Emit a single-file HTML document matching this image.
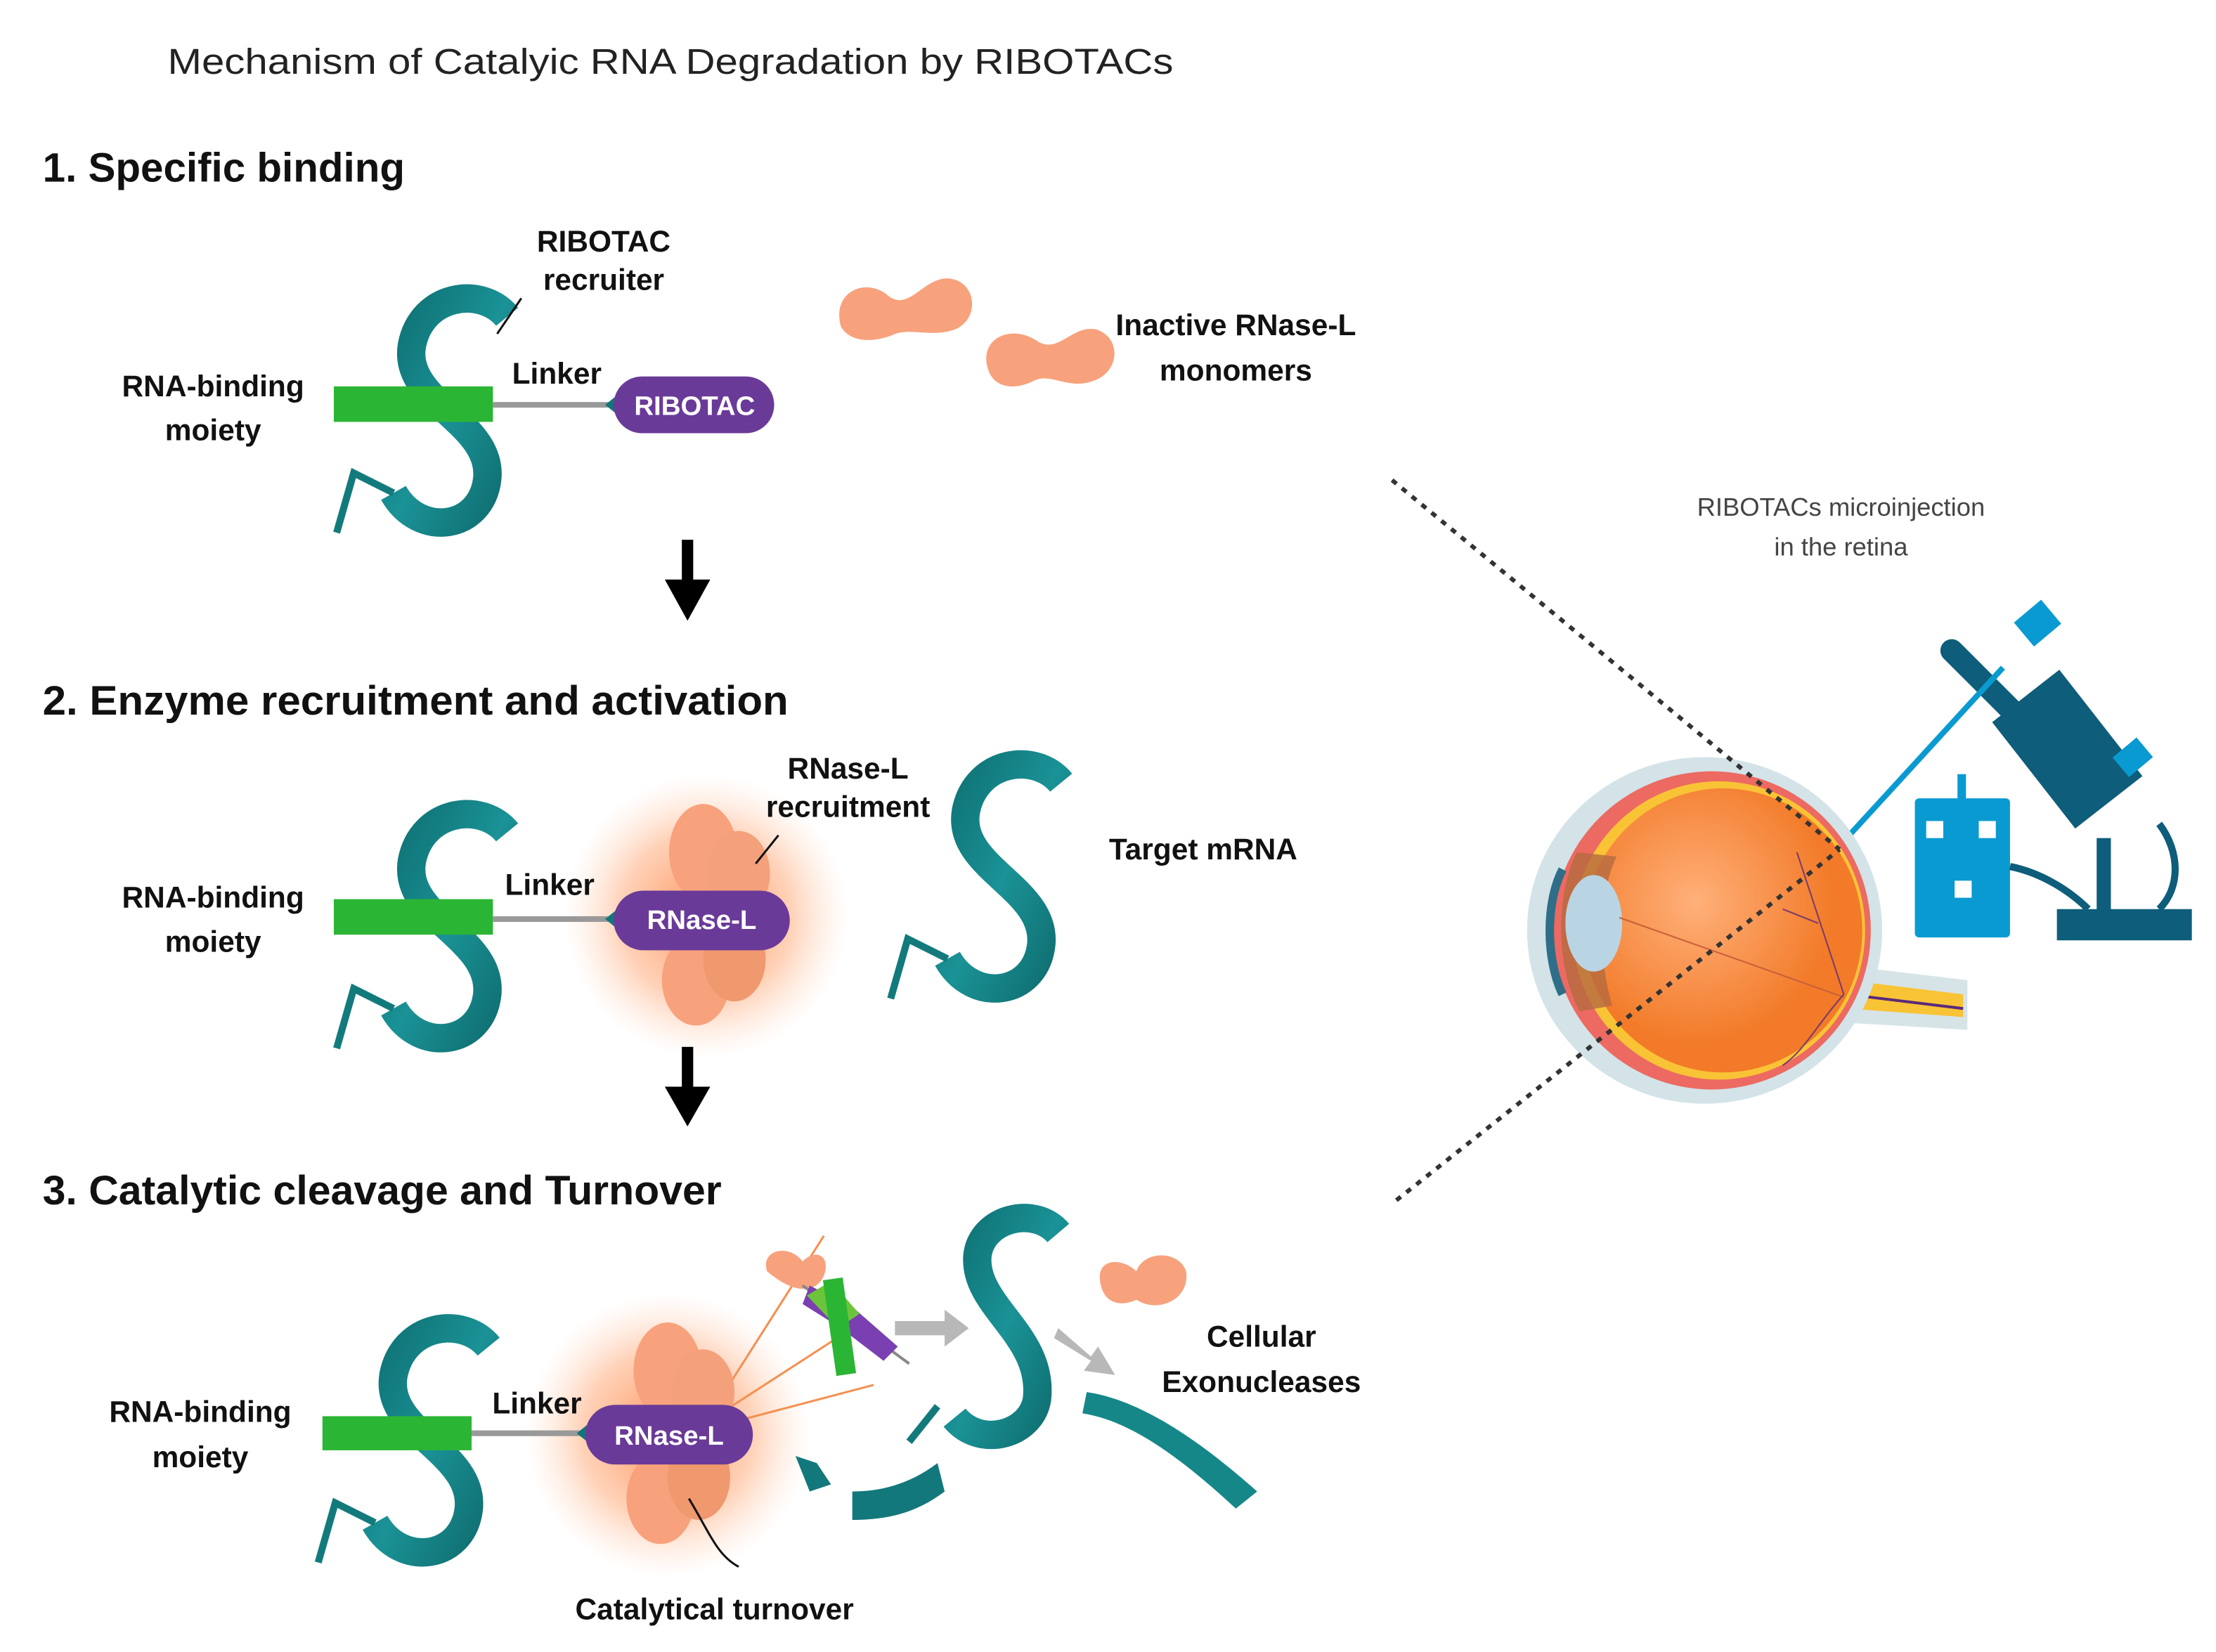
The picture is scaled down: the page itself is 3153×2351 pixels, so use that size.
<!DOCTYPE html>
<html><head><meta charset="utf-8"><style>
html,body{margin:0;padding:0;background:#fff;}
svg{display:block;}
text{font-family:"Liberation Sans",sans-serif;}
.lb{font-weight:bold;font-size:21px;fill:#111;}
.h{font-weight:bold;font-size:29px;fill:#111;}
</style></head><body>
<svg width="3153" height="2351" viewBox="0 0 1560 1163" preserveAspectRatio="none" xmlns="http://www.w3.org/2000/svg">
<defs>
<radialGradient id="glow"><stop offset="0" stop-color="#ff7a3a" stop-opacity="0.85"/><stop offset="0.6" stop-color="#ff9a60" stop-opacity="0.45"/><stop offset="1" stop-color="#ffc8a8" stop-opacity="0"/></radialGradient>
<linearGradient id="tg" x1="0" y1="0" x2="1" y2="1"><stop offset="0" stop-color="#0e6f72"/><stop offset="0.5" stop-color="#1a9296"/><stop offset="1" stop-color="#0e6a6c"/></linearGradient>
<radialGradient id="eyeg" cx="0.4" cy="0.4"><stop offset="0" stop-color="#ffb07a"/><stop offset="1" stop-color="#f27a28"/></radialGradient>
<g id="S">
<path d="M122 18 C104 -4 62 2 55 38 C48 78 112 92 108 132 C104 168 60 174 42 142" fill="none" stroke="url(#tg)" stroke-width="20" stroke-linecap="butt"/>
<path d="M42 142 L14 128 L2 170" fill="none" stroke="#137a7c" stroke-width="5"/>
</g>
<g id="enz">
<ellipse cx="0" cy="-45" rx="24" ry="34" fill="#f7a27c"/>
<ellipse cx="25" cy="-30" rx="22" ry="30" fill="#f4a07a"/>
<ellipse cx="-5" cy="45" rx="24" ry="32" fill="#f7a27c"/>
<ellipse cx="22" cy="30" rx="22" ry="30" fill="#f0986e"/>
</g>
</defs>
<rect width="1560" height="1163" fill="#fff"/>
<text x="118" y="52" font-size="25" fill="#222" textLength="708" lengthAdjust="spacingAndGlyphs">Mechanism of Catalyic RNA Degradation by RIBOTACs</text>

<!-- Section 1 -->
<text class="h" x="30" y="128" textLength="255" lengthAdjust="spacingAndGlyphs">1. Specific binding</text>
<use href="#S" x="235" y="205"/>
<rect x="235" y="272" width="112" height="25" fill="#2bb534"/>
<line x1="347" y1="285" x2="432" y2="285" stroke="#999" stroke-width="4"/>
<path d="M426 285 L436 277 L436 293Z" fill="#13757a"/>
<rect x="432" y="265" width="113" height="40" rx="20" fill="#6a3a98"/>
<text x="489" y="292" text-anchor="middle" font-weight="bold" font-size="19" fill="#fff">RIBOTAC</text>
<text class="lb" x="425" y="177" text-anchor="middle">RIBOTAC</text>
<text class="lb" x="425" y="204" text-anchor="middle">recruiter</text>
<line x1="367" y1="210" x2="350" y2="235" stroke="#111" stroke-width="1.5"/>
<text class="lb" x="392" y="270" text-anchor="middle">Linker</text>
<text class="lb" x="150" y="279" text-anchor="middle">RNA-binding</text>
<text class="lb" x="150" y="310" text-anchor="middle">moiety</text>
<path d="M592 230 C585 205 610 195 625 208 C640 220 650 195 668 196 C688 198 690 225 672 232 C655 238 640 230 628 236 C612 242 598 240 592 230Z" fill="#f7a27c"/>
<path d="M695 258 C690 238 712 228 730 240 C745 250 755 228 772 232 C790 238 788 262 770 268 C752 275 740 262 728 268 C712 276 698 272 695 258Z" fill="#f7a27c"/>
<text class="lb" x="870" y="236" text-anchor="middle">Inactive RNase-L</text>
<text class="lb" x="870" y="268" text-anchor="middle">monomers</text>
<rect x="480" y="380" width="8" height="30" fill="#000"/>
<path d="M468 408 L500 408 L484 437Z" fill="#000"/>

<!-- Section 2 -->
<text class="h" x="30" y="503" textLength="525" lengthAdjust="spacingAndGlyphs">2. Enzyme recruitment and activation</text>
<use href="#S" x="235" y="568"/>
<circle cx="497" cy="645" r="100" fill="url(#glow)"/>
<g transform="translate(495,645)"><use href="#enz"/></g>
<rect x="235" y="633" width="112" height="25" fill="#2bb534"/>
<line x1="347" y1="647" x2="432" y2="647" stroke="#999" stroke-width="4"/>
<path d="M426 647 L436 639 L436 655Z" fill="#13757a"/>
<rect x="432" y="627" width="124" height="42" rx="21" fill="#6a3a98"/>
<text x="494" y="654" text-anchor="middle" font-weight="bold" font-size="19" fill="#fff">RNase-L</text>
<text class="lb" x="387" y="630" text-anchor="middle">Linker</text>
<text class="lb" x="150" y="639" text-anchor="middle">RNA-binding</text>
<text class="lb" x="150" y="670" text-anchor="middle">moiety</text>
<text class="lb" x="597" y="548" text-anchor="middle">RNase-L</text>
<text class="lb" x="597" y="575" text-anchor="middle">recruitment</text>
<line x1="548" y1="588" x2="532" y2="608" stroke="#111" stroke-width="1.5"/>
<use href="#S" x="625" y="533"/>
<text class="lb" x="847" y="605" text-anchor="middle">Target mRNA</text>
<rect x="480" y="737" width="8" height="30" fill="#000"/>
<path d="M468 765 L500 765 L484 793Z" fill="#000"/>

<!-- Section 3 -->
<text class="h" x="30" y="848" textLength="478" lengthAdjust="spacingAndGlyphs">3. Catalytic cleavage and Turnover</text>
<use href="#S" x="222" y="930"/>
<circle cx="470" cy="1010" r="100" fill="url(#glow)"/>
<g stroke="#f59050" stroke-width="1.5"><line x1="510" y1="980" x2="580" y2="870"/><line x1="515" y1="990" x2="600" y2="935"/><line x1="520" y1="1000" x2="615" y2="975"/></g>
<g transform="translate(470,1010)"><use href="#enz"/></g>
<rect x="227" y="997" width="105" height="24" fill="#2bb534"/>
<line x1="332" y1="1009" x2="412" y2="1009" stroke="#999" stroke-width="4"/>
<path d="M406 1009 L416 1001 L416 1017Z" fill="#13757a"/>
<rect x="412" y="989" width="118" height="42" rx="21" fill="#6a3a98"/>
<text x="471" y="1017" text-anchor="middle" font-weight="bold" font-size="19" fill="#fff">RNase-L</text>
<text class="lb" x="378" y="995" text-anchor="middle">Linker</text>
<text class="lb" x="141" y="1001" text-anchor="middle">RNA-binding</text>
<text class="lb" x="141" y="1033" text-anchor="middle">moiety</text>
<path d="M485 1055 C500 1080 505 1095 520 1103" fill="none" stroke="#111" stroke-width="1.5"/>
<text class="lb" x="503" y="1140" text-anchor="middle">Catalytical turnover</text>
<!-- broken target pieces -->
<path d="M540 895 C535 880 555 875 565 888 C575 878 585 885 580 898 C575 910 560 912 540 895Z" fill="#f7a27c"/>
<line x1="565" y1="905" x2="640" y2="960" stroke="#888" stroke-width="2"/>
<path d="M570 905 L600 920 L632 948 L622 958 L592 935 L565 918Z" fill="#7a3fb0"/>
<path d="M568 912 L585 902 L605 925 L590 935Z" fill="#6cc43a"/>
<rect x="584" y="900" width="14" height="68" fill="#2bb534" transform="rotate(-8 591 934)"/>
<path d="M630 930 L665 930 L665 922 L682 935 L665 948 L665 940 L630 940Z" fill="#b8b8b8"/>
<path d="M745 935 L768 955 L773 948 L785 968 L763 965 L768 958 L742 942Z" fill="#b8b8b8"/>
<path d="M745 868 C728 848 690 858 688 885 C686 920 735 940 730 985 C726 1010 690 1020 672 998" fill="none" stroke="url(#tg)" stroke-width="20"/>
<path d="M660 990 L640 1015" stroke="#137a7c" stroke-width="5"/>
<path d="M560 1025 L575 1030 L585 1045 L570 1050Z" fill="#13787b"/>
<path d="M600 1050 C620 1050 640 1045 660 1030 L665 1050 C645 1065 625 1070 600 1070Z" fill="#13787b"/>
<path d="M765 980 C800 985 840 1010 885 1050 L870 1062 C830 1025 795 1000 762 995Z" fill="#168789"/>
<path d="M775 905 C770 885 790 885 800 895 C805 880 830 880 835 895 C838 915 815 925 800 915 C790 920 778 918 775 905Z" fill="#f7a27c"/>
<text class="lb" x="888" y="948" text-anchor="middle">Cellular</text>
<text class="lb" x="888" y="980" text-anchor="middle">Exonucleases</text>

<!-- Right panel -->
<text x="1296" y="363" text-anchor="middle" font-size="18" fill="#444">RIBOTACs microinjection</text>
<text x="1296" y="391" text-anchor="middle" font-size="18" fill="#444">in the retina</text>
<!-- microscope -->
<g fill="#0e5d7a">
<rect x="1448" y="640" width="95" height="22"/>
<rect x="1476" y="590" width="10" height="52"/>
<rect x="1425" y="480" width="60" height="95" transform="rotate(-38 1455 527)"/>
<rect x="1390" y="440" width="16" height="85" rx="8" transform="rotate(-45 1398 482)"/>
</g>
<g fill="#0a9ad2">
<rect x="1348" y="562" width="67" height="98" rx="3"/>
<rect x="1378" y="545" width="6" height="20"/>
<rect x="1422" y="428" width="25" height="22" transform="rotate(-40 1434 439)"/>
<rect x="1490" y="525" width="22" height="18" transform="rotate(-40 1500 533)"/>
</g>
<g fill="#fff"><rect x="1356" y="578" width="12" height="12"/><rect x="1393" y="578" width="12" height="12"/><rect x="1376" y="620" width="12" height="12"/></g>
<line x1="1300" y1="590" x2="1410" y2="470" stroke="#0a9ad2" stroke-width="4"/>
<path d="M1415 610 C1440 615 1460 630 1470 640" fill="none" stroke="#0e5d7a" stroke-width="5"/>
<path d="M1520 580 C1535 600 1535 625 1520 640" fill="none" stroke="#0e5d7a" stroke-width="5"/>
<!-- eye -->
<path d="M1300 680 L1385 690 L1385 725 L1300 720Z" fill="#d6e4e8"/>
<path d="M1300 690 L1382 700 L1382 716 L1300 710Z" fill="#f9c336"/>
<line x1="1300" y1="700" x2="1382" y2="710" stroke="#5a2a7a" stroke-width="2"/>
<ellipse cx="1200" cy="655" rx="125" ry="122" fill="#d3e3e8"/>
<ellipse cx="1205" cy="655" rx="112" ry="112" fill="#ec6a62"/>
<ellipse cx="1210" cy="655" rx="103" ry="105" fill="#f9c336"/>
<ellipse cx="1213" cy="655" rx="98" ry="100" fill="url(#eyeg)"/>
<path d="M1110 600 C1095 630 1095 680 1112 712 L1135 708 C1125 675 1125 630 1138 603Z" fill="#b56a40" opacity="0.8"/>
<ellipse cx="1122" cy="650" rx="20" ry="34" fill="#b9d4e2"/>
<path d="M1100 612 C1088 635 1088 675 1100 700" fill="none" stroke="#2f6e88" stroke-width="6"/>
<line x1="1140" y1="646" x2="1298" y2="702" stroke="#c7603a" stroke-width="1"/>
<g stroke="#7a3b6a" stroke-width="1" fill="none"><path d="M1298 700 C1285 660 1275 630 1265 600"/><path d="M1298 700 C1280 720 1270 740 1255 750"/><path d="M1280 650 L1255 640"/></g>
<!-- dotted lines -->
<g stroke="#333" stroke-width="3" stroke-dasharray="4 5" fill="none">
<line x1="980" y1="338" x2="1295" y2="598"/>
<line x1="983" y1="845" x2="1295" y2="598"/>
</g>
</svg>
</body></html>
